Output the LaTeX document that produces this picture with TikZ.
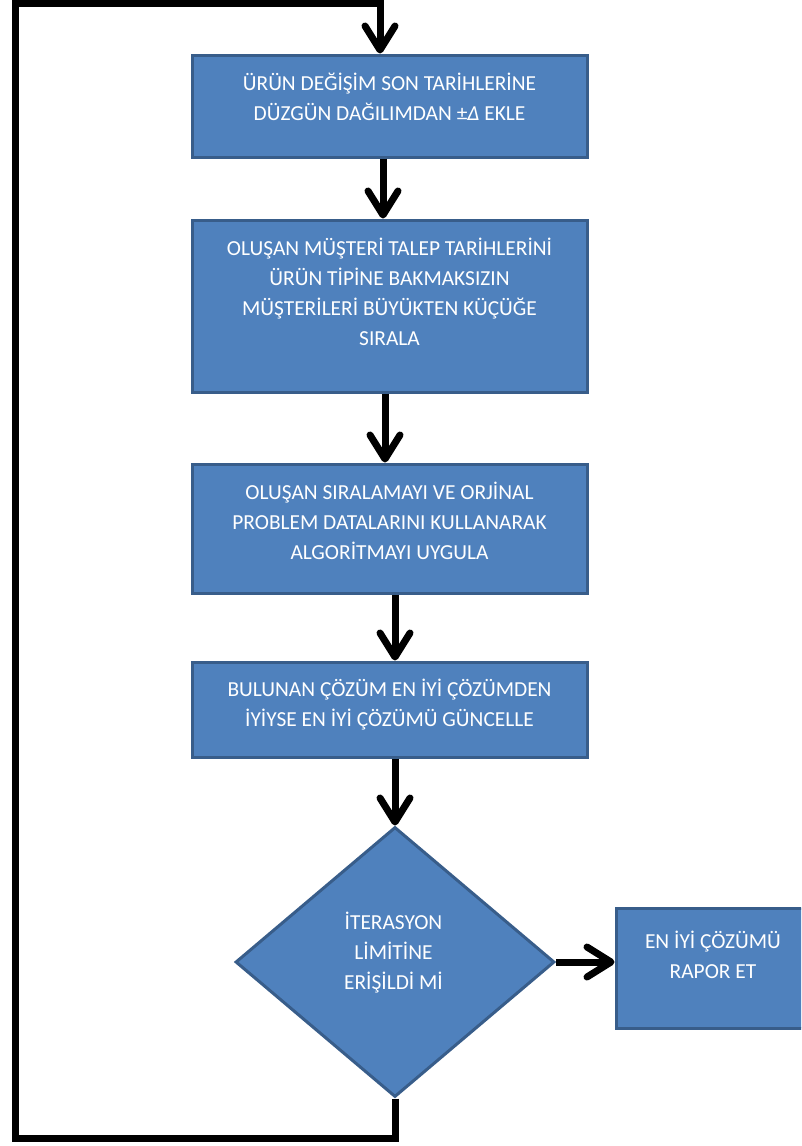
\documentclass[tikz,border=0pt]{standalone}
\usepackage{fontspec}
\setmainfont{Carlito}
\usetikzlibrary{arrows.meta,shapes.geometric}

\begin{document}
\begin{tikzpicture}[x=1pt, y=-1pt, >={Straight Barb[length=24pt,width=30pt,round]},
  blk/.style={draw=edge, fill=fillc, line width=3pt, inner sep=0pt},
  txt/.style={text=white, align=center, font=\fontsize{21.4}{30}\selectfont},
  flow/.style={->, line width=7pt}]
  \definecolor{fillc}{HTML}{4F81BD}
  \definecolor{edge}{HTML}{385D8A}
  \useasboundingbox (0,0) rectangle (801,1146);
  \clip (0,0) rectangle (801,1146);
  \fill[white] (0,0) rectangle (801,1146);

  % steps
  \node[blk, minimum width=395pt, minimum height=102pt] (b1) at (389.5,106) {};
  \node[txt] (t1) at (389.5,97) {ÜRÜN DEĞİŞİM SON TARİHLERİNE\\DÜZGÜN DAĞILIMDAN ±\textit{Δ} EKLE};
  \node[blk, minimum width=395pt, minimum height=172pt] (b2) at (389.5,306) {};
  \node[txt] (t2) at (389.5,291.5) {OLUŞAN MÜŞTERİ TALEP TARİHLERİNİ\\ÜRÜN TİPİNE BAKMAKSIZIN\\MÜŞTERİLERİ BÜYÜKTEN KÜÇÜĞE\\SIRALA};
  \node[blk, minimum width=395pt, minimum height=129pt] (b3) at (389.5,528.5) {};
  \node[txt] (t3) at (389.5,521) {OLUŞAN SIRALAMAYI VE ORJİNAL\\PROBLEM DATALARINI KULLANARAK\\ALGORİTMAYI UYGULA};
  \node[blk, minimum width=395pt, minimum height=95pt] (b4) at (389.5,709.5) {};
  \node[txt] (t4) at (389.5,704.5) {BULUNAN ÇÖZÜM EN İYİ ÇÖZÜMDEN\\İYİYSE EN İYİ ÇÖZÜMÜ GÜNCELLE};

  % decision and exit
  \node[blk, diamond, minimum width=319pt, minimum height=270pt] (dm) at (395,962) {};
  \node[txt] (t5) at (393.5,952.5) {İTERASYON\\LİMİTİNE\\ERİŞİLDİ Mİ};
  \node[blk, minimum width=194pt, minimum height=120pt] (b5) at (713,968) {};
  \node[txt] (t6) at (713,954.5) {EN İYİ ÇÖZÜMÜ\\RAPOR ET};

  % connectors
  \draw[flow] ([xshift=-6.5pt]b1.south) -- ([xshift=-6.5pt]b2.north);
  \draw[flow] ([xshift=-4.5pt]b2.south) -- ([xshift=-4.5pt]b3.north);
  \draw[flow] ([xshift=5.5pt]b3.south) -- ([xshift=5.5pt]b4.north);
  \draw[flow] (b4.south -| dm.north) -- (dm.north);
  \draw[flow] (dm.east) -- (dm.east -| b5.west);

  % loop back
  \coordinate (lb) at (15,1138);
  \coordinate (lt) at (15,3);
  \draw[flow] (dm.south) |- (lb) -- (lt) -| ([xshift=-9.5pt]b1.north);
\end{tikzpicture}
\end{document}
